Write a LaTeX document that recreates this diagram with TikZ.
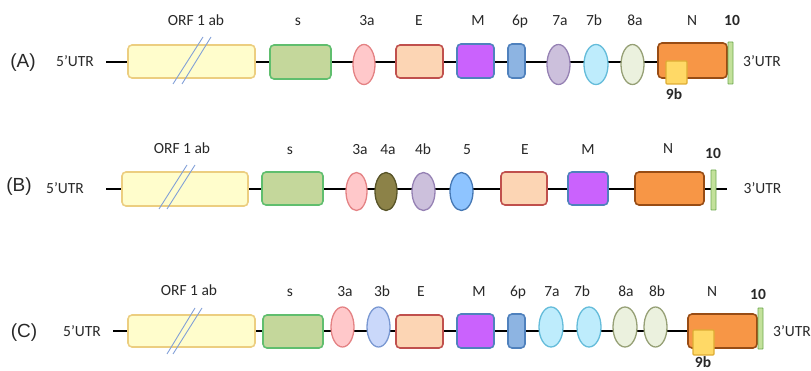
\documentclass[tikz,border=0pt]{standalone}
\usepackage{fontspec}
\setmainfont{Carlito}
\newfontfamily\tagfont{Liberation Sans}
\usetikzlibrary{shapes.geometric}

% gene colours
\definecolor{orfFill}{RGB}{255,253,204}
\definecolor{orfLine}{RGB}{236,206,128}
\definecolor{sFill}{RGB}{196,215,155}
\definecolor{sLine}{RGB}{96,190,110}
\definecolor{pinkFill}{RGB}{255,200,202}
\definecolor{pinkLine}{RGB}{228,130,132}
\definecolor{eFill}{RGB}{252,213,180}
\definecolor{eLine}{RGB}{192,80,77}
\definecolor{mFill}{RGB}{202,98,253}
\definecolor{blueLine}{RGB}{79,129,189}
\definecolor{sixFill}{RGB}{141,180,226}
\definecolor{lavFill}{RGB}{204,192,220}
\definecolor{lavLine}{RGB}{150,130,180}
\definecolor{cyanFill}{RGB}{190,236,252}
\definecolor{cyanLine}{RGB}{100,188,218}
\definecolor{paleFill}{RGB}{235,241,222}
\definecolor{paleLine}{RGB}{150,160,118}
\definecolor{nFill}{RGB}{247,150,70}
\definecolor{nLine}{RGB}{152,76,20}
\definecolor{ninebFill}{RGB}{255,217,102}
\definecolor{ninebLine}{RGB}{222,172,52}
\definecolor{tenFill}{RGB}{195,225,155}
\definecolor{tenLine}{RGB}{110,170,80}
\definecolor{oliveFill}{RGB}{140,130,72}
\definecolor{oliveLine}{RGB}{88,84,40}
\definecolor{fiveFill}{RGB}{142,196,255}
\definecolor{fiveLine}{RGB}{70,120,180}
\definecolor{threebFill}{RGB}{202,216,250}
\definecolor{threebLine}{RGB}{122,152,210}
\definecolor{slashCol}{RGB}{130,160,215}
\definecolor{txt}{RGB}{40,40,40}

\begin{document}
\begin{tikzpicture}[x=1pt,y=-1pt,
  backbone/.style={draw=black,line width=1.6pt},
  gbox/.style n args={4}{draw=#2,fill=#1,line width=1.6pt,rounded corners=4pt,
    inner sep=0pt,minimum width=#3pt,minimum height=#4pt},
  gell/.style n args={4}{ellipse,draw=#2,fill=#1,line width=1.3pt,
    inner sep=0pt,minimum width=#3pt,minimum height=#4pt},
  lbl/.style={anchor=base,text=txt,font=\fontsize{15.5}{16}\selectfont,inner sep=0pt},
  blbl/.style={lbl,font=\fontsize{15.5}{16}\selectfont\bfseries},
  tag/.style={anchor=base,text=txt,font=\tagfont\fontsize{19}{20}\selectfont,inner sep=0pt},
  slash/.style={draw=slashCol,line width=0.9pt}]
\useasboundingbox (0,0) rectangle (811,371);

% ---------------- genome (A) ----------------
\coordinate (a0) at (106,62);
\coordinate (a1) at (658,62);
\draw[backbone] (a0) -- (a1);
\node[gbox={orfFill}{orfLine}{127}{33}] (orfA) at (191.5,61.5) {};
\node[gbox={sFill}{sLine}{61}{34}] (sA) at (300.5,62) {};
\node[gell={pinkFill}{pinkLine}{22}{40}] (a3A) at (364,64.5) {};
\node[gbox={eFill}{eLine}{47}{33}] (eA) at (419.5,61.5) {};
\node[gbox={mFill}{blueLine}{37}{34}] (mA) at (475.5,61) {};
\node[gbox={sixFill}{blueLine}{17}{34}] (p6A) at (516.5,61) {};
\node[gell={lavFill}{lavLine}{23}{40}] (a7A) at (558.5,64.5) {};
\node[gell={cyanFill}{cyanLine}{24}{40}] (b7A) at (596,64.5) {};
\node[gell={paleFill}{paleLine}{23}{40}] (a8A) at (632.5,64.5) {};
\node[gbox={nFill}{nLine}{69}{35}] (nA) at (692.5,60.5) {};
\node[gbox={ninebFill}{ninebLine}{21}{23},rounded corners=1pt,line width=1.2pt] (b9A) at (676.5,72.5) {};
\node[gbox={tenFill}{tenLine}{5}{42},rounded corners=0.5pt,line width=0.9pt] (tenA) at (730.5,63) {};
\coordinate (sa1) at (173,84); \coordinate (sa2) at (203,37);
\coordinate (sa3) at (182,84); \coordinate (sa4) at (211,37);
\draw[slash] (sa1) -- (sa2); \draw[slash] (sa3) -- (sa4);

\node[tag] (tagA) at (23,68) {(A)};
\node[lbl] (utr5A) at (75,67) {5’UTR};
\node[lbl] (utr3A) at (762,67) {3’UTR};
\node[lbl] (lorfA) at (196,26) {ORF 1 ab};
\node[lbl] (lsA) at (298,26) {s};
\node[lbl] (l3aA) at (367,26) {3a};
\node[lbl] (lEA) at (419,26) {E};
\node[lbl] (lMA) at (478,26) {M};
\node[lbl] (l6A) at (520,26) {6p};
\node[lbl] (l7aA) at (560,26) {7a};
\node[lbl] (l7bA) at (594,26) {7b};
\node[lbl] (l8aA) at (635,26) {8a};
\node[lbl] (lNA) at (692,26) {N};
\node[blbl] (l10A) at (732,26) {10};
\node[blbl] (l9bA) at (674,100) {9b};

% ---------------- genome (B) ----------------
\coordinate (b0) at (106,189);
\coordinate (b1) at (727,189);
\draw[backbone] (b0) -- (b1);
\node[gbox={orfFill}{orfLine}{126}{34}] (orfB) at (185,189) {};
\node[gbox={sFill}{sLine}{61}{33}] (sB) at (292.5,188.5) {};
\node[gell={pinkFill}{pinkLine}{21}{38}] (a3B) at (356.5,191.5) {};
\node[gell={oliveFill}{oliveLine}{22}{38}] (a4B) at (386,191.5) {};
\node[gell={lavFill}{lavLine}{23}{38}] (b4B) at (423.5,191.5) {};
\node[gell={fiveFill}{fiveLine}{23}{38}] (f5B) at (461.5,191.5) {};
\node[gbox={eFill}{eLine}{46}{33}] (eB) at (524,188.5) {};
\node[gbox={mFill}{blueLine}{40}{33}] (mB) at (588,188.5) {};
\node[gbox={nFill}{nLine}{69}{33}] (nB) at (669.5,188.5) {};
\node[gbox={tenFill}{tenLine}{5}{40},rounded corners=0.5pt,line width=0.9pt] (tenB) at (713.5,190) {};
\coordinate (sb1) at (159,209); \coordinate (sb2) at (187,165);
\coordinate (sb3) at (167,209); \coordinate (sb4) at (195,165);
\draw[slash] (sb1) -- (sb2); \draw[slash] (sb3) -- (sb4);

\node[tag] (tagB) at (19,192) {(B)};
\node[lbl] (utr5B) at (65,194) {5’UTR};
\node[lbl] (utr3B) at (762.5,194) {3’UTR};
\node[lbl] (lorfB) at (182,154) {ORF 1 ab};
\node[lbl] (lsB) at (290,155) {s};
\node[lbl] (l3aB) at (360,155) {3a};
\node[lbl] (l4aB) at (388,155) {4a};
\node[lbl] (l4bB) at (423,155) {4b};
\node[lbl] (l5B) at (467,155) {5};
\node[lbl] (lEB) at (525,155) {E};
\node[lbl] (lMB) at (588,155) {M};
\node[lbl] (lNB) at (668,154) {N};
\node[blbl] (l10B) at (713,159) {10};

% ---------------- genome (C) ----------------
\coordinate (c0) at (113,331);
\coordinate (c1) at (688,331);
\draw[backbone] (c0) -- (c1);
\node[gbox={orfFill}{orfLine}{127}{32}] (orfC) at (191.5,331) {};
\node[gbox={sFill}{sLine}{60}{33}] (sC) at (293,331.5) {};
\node[gell={pinkFill}{pinkLine}{23}{40}] (a3C) at (342.5,327) {};
\node[gell={threebFill}{threebLine}{23}{40}] (b3C) at (378.5,327) {};
\node[gbox={eFill}{eLine}{47}{33}] (eC) at (419.5,331.5) {};
\node[gbox={mFill}{blueLine}{37}{34}] (mC) at (475.5,331) {};
\node[gbox={sixFill}{blueLine}{17}{34}] (p6C) at (516.5,331) {};
\node[gell={cyanFill}{cyanLine}{24}{40}] (a7C) at (551,327) {};
\node[gell={cyanFill}{cyanLine}{24}{40}] (b7C) at (589,327) {};
\node[gell={paleFill}{paleLine}{24}{40}] (a8C) at (625,327) {};
\node[gell={paleFill}{paleLine}{23}{40}] (b8C) at (655.5,327) {};
\node[gbox={nFill}{nLine}{69}{34}] (nC) at (722.5,331) {};
\node[gbox={ninebFill}{ninebLine}{21}{25},rounded corners=1pt,line width=1.2pt] (b9C) at (703.5,342.5) {};
\node[gbox={tenFill}{tenLine}{5}{41},rounded corners=0.5pt,line width=0.9pt] (tenC) at (760.5,328.5) {};
\coordinate (sc1) at (167,354); \coordinate (sc2) at (195,308);
\coordinate (sc3) at (173,354); \coordinate (sc4) at (202,308);
\draw[slash] (sc1) -- (sc2); \draw[slash] (sc3) -- (sc4);

\node[tag] (tagC) at (24,337) {(C)};
\node[lbl] (utr5C) at (82,336) {5’UTR};
\node[lbl] (utr3C) at (792,336) {3’UTR};
\node[lbl] (lorfC) at (189,296) {ORF 1 ab};
\node[lbl] (lsC) at (290,297) {s};
\node[lbl] (l3aC) at (345,297) {3a};
\node[lbl] (l3bC) at (382,297) {3b};
\node[lbl] (lEC) at (421,297) {E};
\node[lbl] (lMC) at (479,297) {M};
\node[lbl] (l6C) at (518,297) {6p};
\node[lbl] (l7aC) at (552,297) {7a};
\node[lbl] (l7bC) at (582,297) {7b};
\node[lbl] (l8aC) at (626,297) {8a};
\node[lbl] (l8bC) at (657,297) {8b};
\node[lbl] (lNC) at (712,297) {N};
\node[blbl] (l10C) at (758,300) {10};
\node[blbl] (l9bC) at (703,367) {9b};
\end{tikzpicture}
\end{document}
